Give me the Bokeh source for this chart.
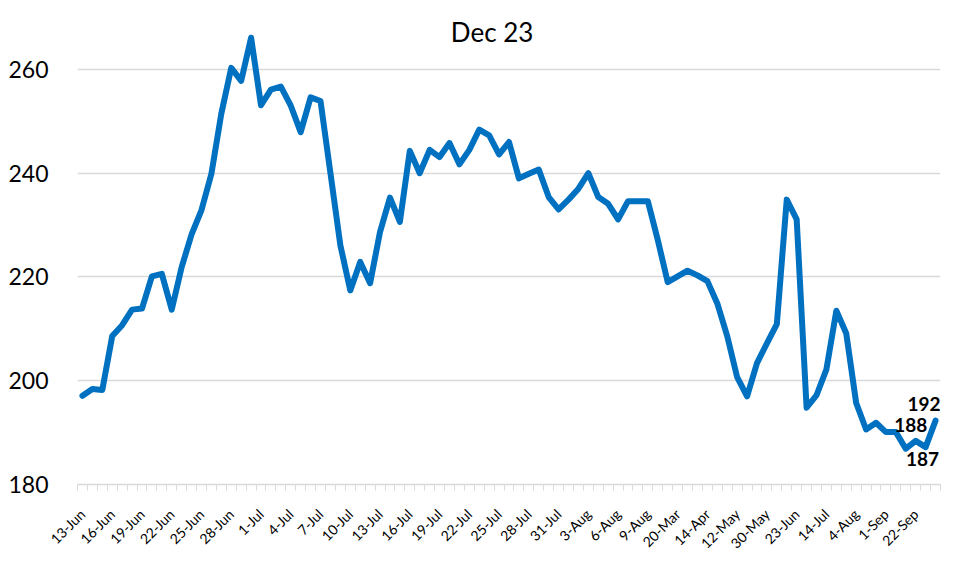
from bokeh.plotting import figure
from bokeh.models import FixedTicker, ColumnDataSource, LabelSet, Label
from bokeh.core.properties import value
from bokeh.embed import file_html
from bokeh.resources import INLINE
import math

# ---------------- data ----------------
categories = (
    [f"{d}-Jun" for d in range(13, 31)]
    + [f"{d}-Jul" for d in range(1, 32)]
    + [f"{d}-Aug" for d in range(1, 12)]
    + ["20-Mar", "28-Mar", "6-Apr", "14-Apr", "21-Apr", "5-May", "12-May",
       "18-May", "24-May", "30-May", "8-Jun", "15-Jun", "23-Jun", "30-Jun",
       "7-Jul", "14-Jul", "21-Jul", "28-Jul", "4-Aug", "11-Aug", "25-Aug",
       "1-Sep", "8-Sep", "15-Sep", "22-Sep", "29-Sep", "6-Oct"]
)
values = [
    197.1, 198.4, 198.2, 208.6, 210.7, 213.7, 213.9, 220.1, 220.6, 213.7,
    221.9, 228.2, 232.9, 239.9, 251.5, 260.3, 257.8, 266.1, 253.1, 256.1,
    256.7, 253.0, 247.9, 254.6, 253.9, 240.0, 226.1, 217.4, 222.9, 218.8,
    228.7, 235.3, 230.6, 244.3, 240.0, 244.5, 243.1, 245.8, 241.7, 244.5,
    248.4, 247.3, 243.6, 246.0, 239.0, 239.9, 240.7, 235.4, 233.0, 234.9,
    237.0, 240.0, 235.4, 234.1, 231.1, 234.6, 234.6, 234.6, 227.1, 219.0,
    220.1, 221.2, 220.3, 219.2, 214.9, 208.6, 200.7, 197.0, 203.4, 207.2,
    210.9, 234.9, 231.1, 194.8, 197.2, 202.2, 213.5, 209.1, 195.7, 190.6,
    191.9, 190.1, 190.1, 186.9, 188.4, 187.2, 192.3,
]
y_ticks = [180, 200, 220, 240, 260]
label_every = 3
labelled_points = [84, 85, 86]
title_text = "Dec 23"

# ---------------- chart ----------------
n = len(categories)
xs = list(range(n))

p = figure(
    width=953, height=570, output_backend="svg", toolbar_location=None,
    x_range=(-0.5, n - 0.5), y_range=(180, 270),
    min_border_left=77, min_border_right=13, min_border_top=17, min_border_bottom=86,
)
p.outline_line_color = None
p.background_fill_color = "white"
p.border_fill_color = "white"

p.line(xs, values, line_color="#0070C0", line_width=6, line_join="round", line_cap="round")

# x axis
major = list(range(0, n, label_every))
p.xaxis.ticker = FixedTicker(ticks=major, minor_ticks=[i - 0.5 for i in range(n + 1)])
p.xaxis.major_label_overrides = {i: categories[i] for i in major}
p.xaxis.major_label_orientation = math.pi / 4
p.xaxis.major_tick_line_color = None
p.xaxis.major_tick_out = 6
p.xaxis.major_tick_in = 0
p.xaxis.minor_tick_line_color = "#d9d9d9"
p.xaxis.minor_tick_out = 6
p.xaxis.minor_tick_in = 0
p.xaxis.axis_line_color = "#d9d9d9"
p.xaxis.axis_line_width = 1.5
p.xaxis.major_label_text_font = "Lato"
p.xaxis.major_label_text_font_size = "14px"
p.xaxis.major_label_text_color = "#000000"
p.xaxis.major_label_standoff = 21
p.xgrid.grid_line_color = None

# y axis
p.yaxis.ticker = FixedTicker(ticks=y_ticks)
p.yaxis.axis_line_color = None
p.yaxis.major_tick_line_color = None
p.yaxis.minor_tick_line_color = None
p.yaxis.major_tick_out = 0
p.yaxis.major_tick_in = 0
p.yaxis.major_label_standoff = 29
p.yaxis.major_label_text_font = "Lato"
p.yaxis.major_label_text_font_size = "23px"
p.yaxis.major_label_text_color = "#000000"
p.ygrid.grid_line_color = "#d9d9d9"
p.ygrid.grid_line_width = 1.5

# data labels
lab_src = ColumnDataSource(dict(
    x=list(labelled_points),
    y=[values[i] for i in labelled_points],
    t=[str(round(values[i])) for i in labelled_points],
    dx=[-5, -3, 5],
    dy=[16, -12, 17],
    align=["center", "center", "right"],
))
p.add_layout(LabelSet(x="x", y="y", text="t", source=lab_src,
                      x_offset="dx", y_offset="dy", text_align="align",
                      text_baseline=value("middle"), text_font=value("Lato"),
                      text_font_style=value("bold"),
                      text_font_size=value("19px"), text_color=value("#000000")))

# title
p.add_layout(Label(x=41.3, y=267.2, text=title_text, text_align="center",
                   text_baseline="middle", text_font="Lato", text_font_size="26px",
                   text_color="#000000"))

open("out.html", "w").write(file_html(p, INLINE))
